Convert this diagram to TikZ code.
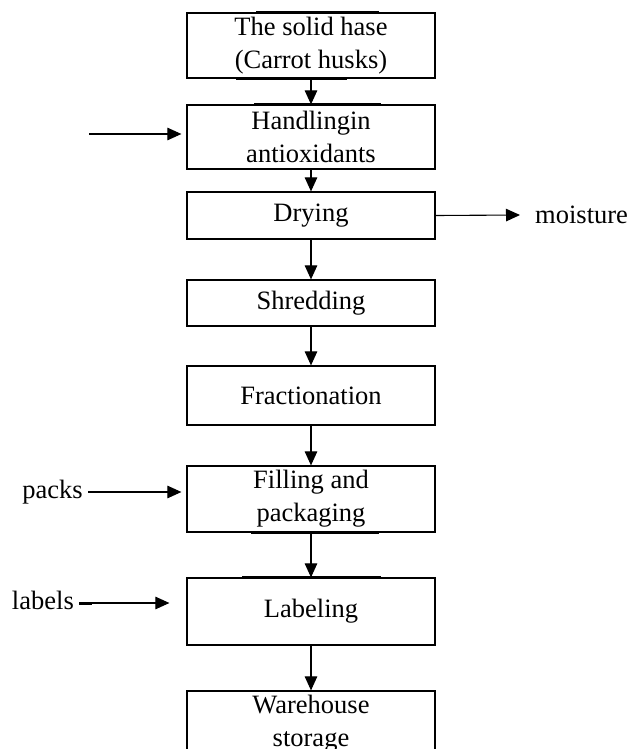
\documentclass[tikz,border=0pt]{standalone}
\usepackage{fontspec}
\setmainfont{Liberation Serif}
\usetikzlibrary{arrows.meta,calc}
\begin{document}
\begin{tikzpicture}[x=1pt,y=-1pt,
  stepbox/.style={draw,line width=1.2pt,minimum width=248pt,inner sep=0pt,align=center,
    font=\fontsize{26.5}{33}\selectfont},
  lbl/.style={inner sep=0pt,font=\fontsize{26.5}{33}\selectfont},
  arr/.style={line width=1.1pt,-{Triangle[length=14pt,width=12.5pt]}},
  bar/.style={line width=2.6pt}]
\useasboundingbox (0,0) rectangle (630,749);
\clip (0,0) rectangle (630,749);
\node[stepbox,minimum height=65pt] (b1) at (311,45.5) {The solid hase\\(Carrot husks)};
\node[stepbox,minimum height=64pt] (b2) at (311,137) {Handlingin\\antioxidants};
\node[stepbox,minimum height=47pt] (b3) at (311,215.5) {Drying};
\node[stepbox,minimum height=46pt] (b4) at (311,303) {Shredding};
\node[stepbox,minimum height=59pt] (b5) at (311,395.5) {Fractionation};
\node[stepbox,minimum height=66pt] (b6) at (311,499) {Filling and\\packaging};
\node[stepbox,minimum height=67pt] (b7) at (311,611.5) {Labeling};
\node[stepbox,minimum height=66pt] (b8) at (311,724) {Warehouse\\storage};
\node[lbl,anchor=west] (moist) at (535,215) {moisture};
\node[lbl,anchor=east] (packs) at (83,492) {packs};
\node[lbl,anchor=east] (labels) at (74,600) {labels};
\coordinate (in2) at (89,134);
% vertical connectors
\draw[arr] (b1) -- (b2);
\draw[arr] (b2) -- (b3);
\draw[arr] (b3) -- (b4);
\draw[arr] (b4) -- (b5);
\draw[arr] (b5) -- (b6);
\draw[arr] (b6) -- (b7);
\draw[arr] (b7) -- (b8);
% side connectors
\draw[arr,shorten >=5pt] (in2) -- (in2 -| b2.west);
\draw[arr] (b3.east) -- ($(moist.west)+(-15,0)$);
\draw[arr,shorten >=5pt] ($(packs.east)+(5,0)$) -- (packs.east -| b6.west);
\coordinate (lab) at (79,603);
\draw[arr,shorten >=17pt] (lab) -- (lab -| b7.west);
\draw[line width=3pt] (lab) -- ++(13,0);
% thick bars
\draw[bar] ($(b1.north west)+(70,0)$) -- ($(b1.north west)+(193,0)$);
\draw[bar] ($(b1.south west)+(50,0)$) -- ($(b1.south west)+(161,0)$);
\draw[bar] ($(b2.north west)+(68,0)$) -- ($(b2.north west)+(195,0)$);
\draw[bar] ($(b6.south west)+(65,0)$) -- ($(b6.south west)+(193,0)$);
\draw[bar] ($(b7.north west)+(56,0)$) -- ($(b7.north west)+(195,0)$);
\end{tikzpicture}
\end{document}
